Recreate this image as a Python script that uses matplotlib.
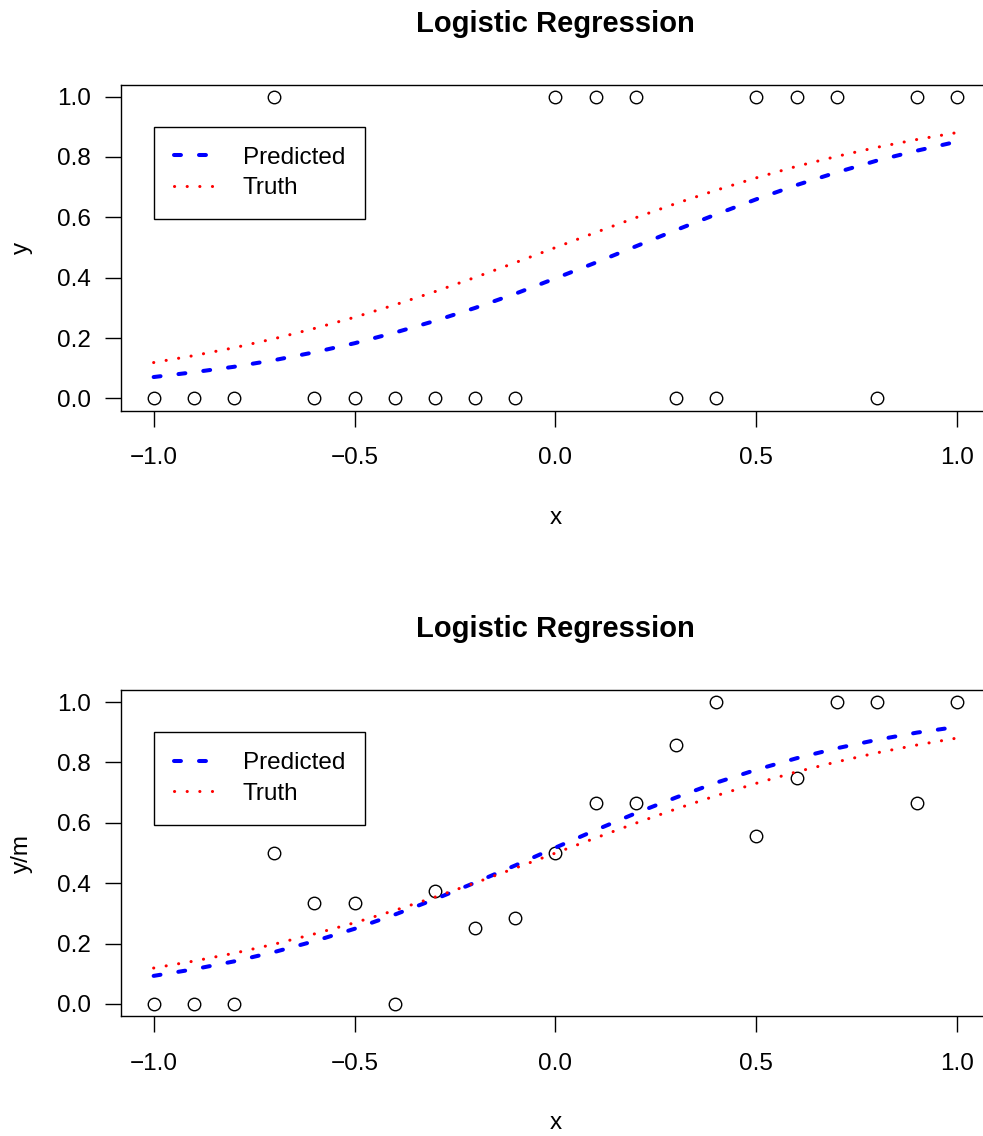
import matplotlib
matplotlib.use("Agg")
import matplotlib.pyplot as plt
from matplotlib import ticker

plt.rcParams['font.family'] = ['Liberation Sans', 'DejaVu Sans']
plt.rcParams['lines.scale_dashes'] = False

# Data
x_grid = [-1.0, -0.9, -0.8, -0.7, -0.6, -0.5, -0.4, -0.3, -0.2, -0.1, 0.0,
          0.1, 0.2, 0.3, 0.4, 0.5, 0.6, 0.7, 0.8, 0.9, 1.0]

# top panel: binary responses
y_binary = [0, 0, 0, 1, 0, 0, 0, 0, 0, 0, 1,
            1, 1, 0, 0, 1, 1, 1, 0, 1, 1]

# bottom panel: proportions y/m
y_prop = [0.0, 0.0, 0.0, 0.5, 0.333, 0.333, 0.0, 0.375, 0.25, 0.286, 0.5,
          0.667, 0.667, 0.857, 1.0, 0.556, 0.75, 1.0, 1.0, 0.667, 1.0]

pred_top = [0.071, 0.087, 0.105, 0.127, 0.153, 0.183, 0.218, 0.257, 0.300, 0.347, 0.398,
            0.450, 0.504, 0.558, 0.610, 0.660, 0.707, 0.749, 0.788, 0.821, 0.851]
pred_bottom = [0.093, 0.115, 0.141, 0.172, 0.208, 0.249, 0.296, 0.347, 0.402, 0.459, 0.518,
               0.576, 0.632, 0.684, 0.733, 0.776, 0.814, 0.847, 0.875, 0.899, 0.918]
truth = [0.119, 0.142, 0.168, 0.198, 0.232, 0.269, 0.310, 0.354, 0.401, 0.450, 0.500,
         0.550, 0.599, 0.646, 0.690, 0.731, 0.769, 0.802, 0.832, 0.858, 0.881]

x_ticks = [-1.0, -0.5, 0.0, 0.5, 1.0]
x_tick_labels = ['\u22121.0', '\u22120.5', '0.0', '0.5', '1.0']
y_ticks = [0.0, 0.2, 0.4, 0.6, 0.8, 1.0]
y_tick_labels = ['0.0', '0.2', '0.4', '0.6', '0.8', '1.0']

FS = 17.5

fig = plt.figure(figsize=(9.83, 11.36), dpi=100)
ax_top = fig.add_axes([0.1236, 0.6386, 0.883, 0.287])
ax_bot = fig.add_axes([0.1236, 0.1056, 0.883, 0.287])


def panel(ax, y_points, pred, ylabel):
    ax.plot(x_grid, y_points, linestyle='none', marker='o', markersize=9,
            markerfacecolor='none', markeredgecolor='black', markeredgewidth=1.0)
    ax.plot(x_grid, pred, color='#0000ff', lw=2.9, dashes=(5, 13),
            dash_capstyle='round', label='Predicted')
    ax.plot(x_grid, truth, color='#ff0000', lw=2.2, dashes=(0.1, 9),
            dash_capstyle='round', label='Truth')

    ax.set_xlim(-1.08, 1.08)
    ax.set_ylim(-0.04, 1.04)

    # Axis Ticks
    ax.xaxis.set_major_locator(ticker.FixedLocator(x_ticks))
    ax.set_xticklabels(x_tick_labels)
    ax.yaxis.set_major_locator(ticker.FixedLocator(y_ticks))
    ax.set_yticklabels(y_tick_labels)
    ax.tick_params(axis='x', direction='out', length=11.5, width=1.0, pad=15, labelsize=FS)
    ax.tick_params(axis='y', direction='out', length=11.5, width=1.0, pad=10.5, labelsize=FS)
    for s in ax.spines.values():
        s.set_linewidth(1.0)

    # Design
    ax.set_title('Logistic Regression', fontsize=21, fontweight='bold', pad=38)
    ax.set_xlabel('x', fontsize=FS)
    ax.xaxis.set_label_coords(0.5, -0.295)
    ax.set_ylabel(ylabel, fontsize=FS)
    ax.yaxis.set_label_coords(-0.102, 0.5)

    # Legend
    leg = ax.legend(loc='upper left', bbox_to_anchor=(-1.0, 0.9),
                    bbox_transform=ax.transData, borderaxespad=0,
                    fontsize=FS, fancybox=False, framealpha=1, edgecolor='black',
                    borderpad=0.82, labelspacing=0.35, handlelength=1.7,
                    handletextpad=1.15)
    leg.get_frame().set_linewidth(1.0)


panel(ax_top, y_binary, pred_top, 'y')
panel(ax_bot, y_prop, pred_bottom, 'y/m')

plt.savefig('out.png', dpi=100)
